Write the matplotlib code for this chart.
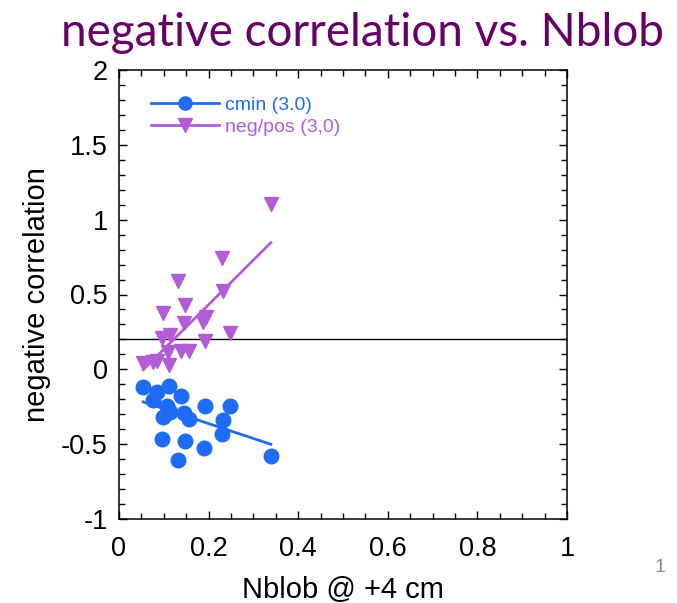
import matplotlib
matplotlib.use("Agg")
import matplotlib.pyplot as plt
import numpy as np
from matplotlib.ticker import MultipleLocator, FixedLocator

plt.rcParams["font.family"] = ["Liberation Sans", "DejaVu Sans"]
plt.rcParams["axes.unicode_minus"] = False

# cmin (3.0)
cmin_x = [0.054, 0.084, 0.111, 0.138, 0.077, 0.108, 0.192, 0.248, 0.114, 0.0975,
          0.144, 0.157, 0.233, 0.231, 0.097, 0.147, 0.190, 0.131, 0.339]
cmin_y = [-0.116, -0.154, -0.112, -0.178, -0.205, -0.245, -0.243, -0.245, -0.283, -0.316,
          -0.294, -0.332, -0.339, -0.432, -0.466, -0.479, -0.528, -0.606, -0.579]
cmin_fit = (-0.993, -0.164)      # slope, intercept

# neg/pos (3,0)
negpos_x = [0.339, 0.231, 0.131, 0.233, 0.148, 0.0975, 0.194, 0.188, 0.145, 0.248,
            0.095, 0.114, 0.192, 0.109, 0.138, 0.156, 0.054, 0.077, 0.084, 0.112]
negpos_y = [1.104, 0.741, 0.590, 0.525, 0.428, 0.374, 0.351, 0.316, 0.307, 0.245,
            0.211, 0.229, 0.191, 0.118, 0.124, 0.124, 0.044, 0.051, 0.057, 0.029]
negpos_fit = (2.98, -0.164)

reference_level = 0.2

x_ticks = [0, 0.2, 0.4, 0.6, 0.8, 1.0]
x_ticklabels = ["0", "0.2", "0.4", "0.6", "0.8", "1"]
y_ticks = [-1, -0.5, 0, 0.5, 1, 1.5, 2]
y_ticklabels = ["-1", "-0.5", "0", "0.5", "1", "1.5", "2"]

blue = "#1e6cf6"
purple = "#b35cd8"

fig = plt.figure(figsize=(6.77, 6.03), dpi=100)
ax = fig.add_axes([119 / 677, 84 / 603, 448 / 677, 449 / 603])

ax.axhline(reference_level, color="black", lw=1.0, zorder=1)

ax.plot(cmin_x, cmin_y, ls="none", marker="o", ms=10.5, color=blue, mec=blue, zorder=3)
xf = np.array([min(cmin_x), max(cmin_x)])
ax.plot(xf, cmin_fit[0] * xf + cmin_fit[1], color=blue, lw=2.0, zorder=2)

ax.plot(negpos_x, negpos_y, ls="none", marker="v", ms=10.5, color=purple, mec=purple, zorder=3)
xf = np.array([min(negpos_x), max(negpos_x)])
ax.plot(xf, negpos_fit[0] * xf + negpos_fit[1], color=purple, lw=2.0, zorder=2)

# legend handles
h1, = ax.plot([], [], color=blue, lw=2.0, marker="o", ms=9.5, label="cmin (3.0)")
h2, = ax.plot([], [], color=purple, lw=2.0, marker="v", ms=9.5, label="neg/pos (3,0)")
leg = ax.legend(handles=[h1, h2], loc="upper left", frameon=False, fontsize=14,
                handlelength=3.5, handletextpad=0.3, labelspacing=0.2,
                borderaxespad=0.0, bbox_to_anchor=(0.055, 0.958))
for t, c in zip(leg.get_texts(), [blue, purple]):
    t.set_color(c)

ax.set_xlim(0, 1)
ax.set_ylim(-1, 2)
ax.xaxis.set_major_locator(FixedLocator(x_ticks))
ax.set_xticklabels(x_ticklabels)
ax.yaxis.set_major_locator(FixedLocator(y_ticks))
ax.set_yticklabels(y_ticklabels)
ax.xaxis.set_minor_locator(MultipleLocator(0.05))
ax.yaxis.set_minor_locator(MultipleLocator(0.1))
ax.tick_params(which="both", direction="in", top=True, right=True, width=1.0)
ax.tick_params(which="major", length=6, labelsize=19.5)
ax.tick_params(axis="x", which="major", pad=12)
ax.tick_params(axis="y", which="major", pad=8)
ax.tick_params(which="minor", length=4)
for s in ax.spines.values():
    s.set_linewidth(1.1)

ax.set_xlabel("Nblob @ +4 cm", fontsize=21, labelpad=10)
ax.set_ylabel("negative correlation", fontsize=21, labelpad=7)

fig.text(0.535, 0.945, "negative correlation vs. Nblob", ha="center", va="center",
         fontsize=33, color="#660066", family=["Lato", "DejaVu Sans"])
fig.text(660 / 677, 1 - 567 / 603, "1", ha="center", va="center", fontsize=14,
         color="#888888")

fig.savefig("out.png", dpi=100)
